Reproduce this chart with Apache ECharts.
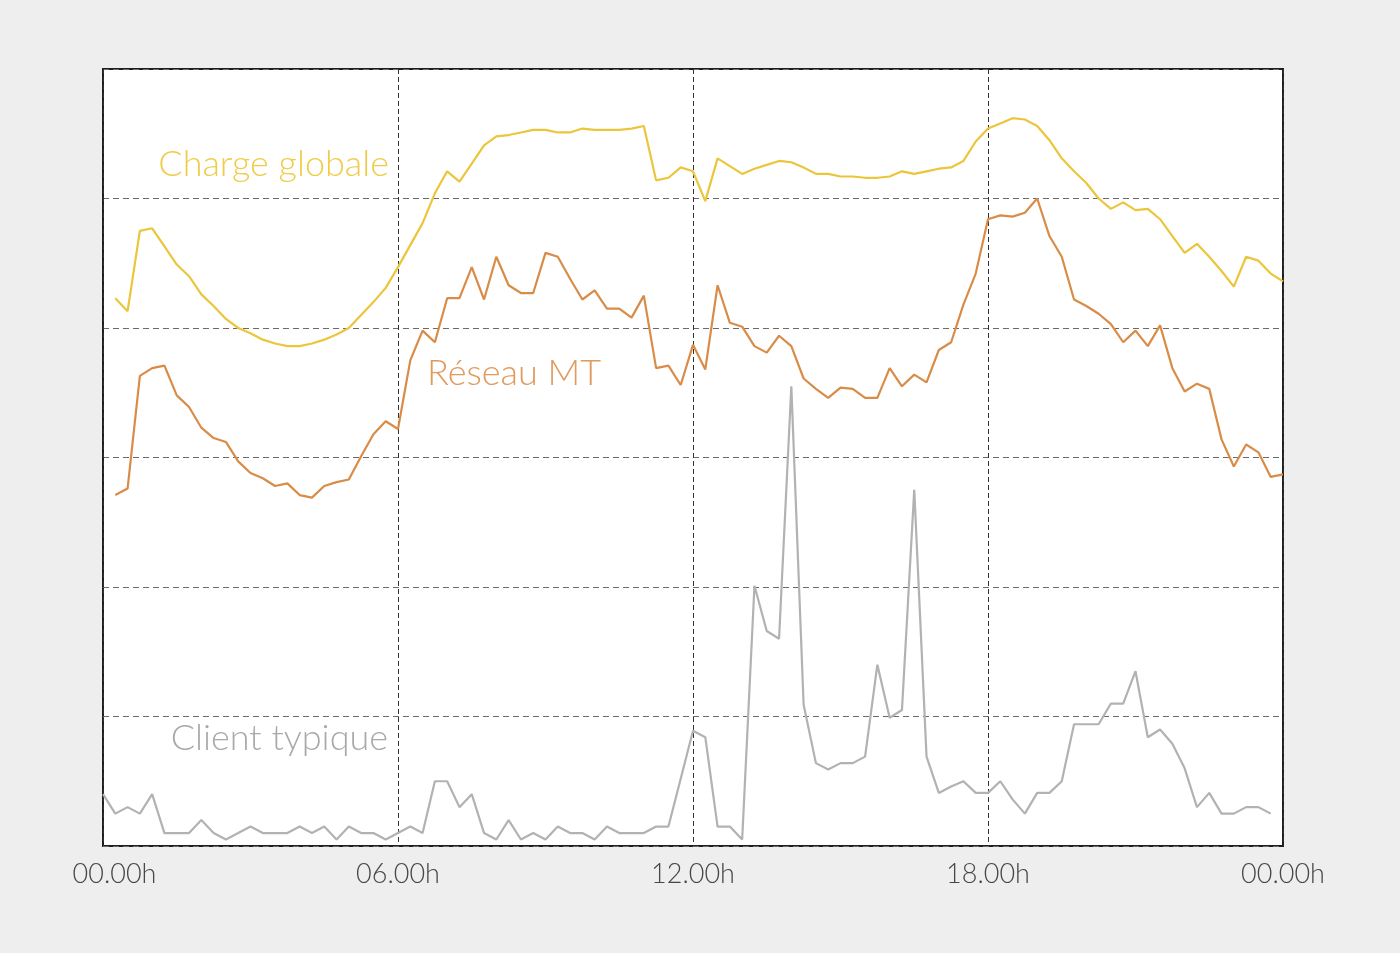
<!DOCTYPE html>
<html>
<head>
<meta charset="utf-8">
<title>Courbes de charge</title>
<script src="https://cdn.jsdelivr.net/npm/echarts@6/dist/echarts.min.js"></script>
<style>
  html, body { margin: 0; padding: 0; background: #eeeeee; }
  #chart { width: 1400px; height: 953px; }
</style>
</head>
<body>
<div id="chart"></div>
<script>
// quarter-hour samples, values in grid units (one dashed line = 1)
const hourTicks = [0, 6, 12, 18, 24]
const tickLabels = ['00.00h', '06.00h', '12.00h', '18.00h', '00.00h']

// Charge globale, from 00.15h to 24.00h
const chargeGlobale = [
  4.23, 4.13, 4.75, 4.77, 4.63, 4.49, 4.40, 4.26,
  4.17, 4.07, 4.00, 3.96, 3.91, 3.88, 3.86, 3.86,
  3.88, 3.91, 3.95, 4.00, 4.10, 4.20, 4.31, 4.47,
  4.64, 4.81, 5.04, 5.21, 5.13, 5.27, 5.41, 5.48,
  5.49, 5.51, 5.53, 5.53, 5.51, 5.51, 5.54, 5.53,
  5.53, 5.53, 5.54, 5.56, 5.14, 5.16, 5.24, 5.21,
  4.98, 5.31, 5.25, 5.19, 5.23, 5.26, 5.29, 5.28,
  5.24, 5.19, 5.19, 5.17, 5.17, 5.16, 5.16, 5.17,
  5.21, 5.19, 5.21, 5.23, 5.24, 5.29, 5.44, 5.54,
  5.58, 5.62, 5.61, 5.56, 5.45, 5.31, 5.21, 5.12,
  5.00, 4.92, 4.97, 4.91, 4.92, 4.84, 4.71, 4.58,
  4.65, 4.55, 4.44, 4.32, 4.55, 4.52, 4.42, 4.36
]

// Réseau MT, from 00.15h to 24.00h
const reseauMT = [
  2.71, 2.76, 3.63, 3.69, 3.71, 3.48, 3.39, 3.23,
  3.15, 3.12, 2.97, 2.88, 2.84, 2.78, 2.80, 2.71,
  2.69, 2.78, 2.81, 2.83, 3.01, 3.18, 3.28, 3.22,
  3.75, 3.98, 3.89, 4.23, 4.23, 4.47, 4.22, 4.55,
  4.33, 4.27, 4.27, 4.58, 4.55, 4.38, 4.22, 4.29,
  4.15, 4.15, 4.08, 4.25, 3.69, 3.71, 3.56, 3.87,
  3.68, 4.33, 4.04, 4.01, 3.86, 3.81, 3.94, 3.86,
  3.61, 3.53, 3.46, 3.54, 3.53, 3.46, 3.46, 3.69,
  3.55, 3.64, 3.58, 3.83, 3.89, 4.18, 4.42, 4.84,
  4.87, 4.86, 4.89, 5.00, 4.71, 4.55, 4.22, 4.17,
  4.11, 4.03, 3.89, 3.98, 3.86, 4.02, 3.69, 3.51,
  3.57, 3.53, 3.14, 2.93, 3.10, 3.04, 2.85, 2.87
]

// Client typique, from 00.00h to 23.45h
const clientTypique = [
  0.40, 0.25, 0.30, 0.25, 0.40, 0.10, 0.10, 0.10,
  0.20, 0.10, 0.05, 0.10, 0.15, 0.10, 0.10, 0.10,
  0.15, 0.10, 0.15, 0.05, 0.15, 0.10, 0.10, 0.05,
  0.10, 0.15, 0.10, 0.50, 0.50, 0.30, 0.40, 0.10,
  0.05, 0.20, 0.05, 0.10, 0.05, 0.15, 0.10, 0.10,
  0.05, 0.15, 0.10, 0.10, 0.10, 0.15, 0.15, 0.52,
  0.89, 0.84, 0.15, 0.15, 0.05, 2.01, 1.66, 1.60,
  3.55, 1.09, 0.64, 0.59, 0.64, 0.64, 0.69, 1.40,
  0.99, 1.05, 2.75, 0.69, 0.41, 0.46, 0.50, 0.41,
  0.41, 0.50, 0.36, 0.25, 0.41, 0.41, 0.50, 0.94,
  0.94, 0.94, 1.10, 1.10, 1.35, 0.84, 0.90, 0.79,
  0.60, 0.30, 0.41, 0.25, 0.25, 0.30, 0.30, 0.25
]

const YELLOW = '#ebc63a'
const ORANGE = '#d98c48'
const GREY = '#b2b2b2'
const FONT = 'Lato, "Open Sans", sans-serif'

// pair each value with its hour, first sample at startHour
function toPoints(values, startHour) {
  return values.map((v, i) => [startHour + i * 0.25, v])
}

function makeChart() {
  var div = document.getElementById('chart')
  var myChart = echarts.init(div)
  var option = {
    backgroundColor: '#eeeeee',
    animation: false,
    grid: {
      left: 103,
      right: 117,
      top: 69,
      bottom: 107,
      show: true,
      backgroundColor: '#ffffff',
      borderColor: '#1e1e1e',
      borderWidth: 2
    },
    xAxis: {
      type: 'value',
      min: hourTicks[0],
      max: hourTicks[hourTicks.length - 1],
      interval: 6,
      axisLine: { show: false },
      axisTick: { show: false },
      axisLabel: {
        margin: 15,
        fontFamily: FONT,
        fontWeight: 300,
        fontSize: 27,
        color: '#474747',
        formatter: function (val) {
          var i = hourTicks.indexOf(val)
          var txt = i >= 0 ? tickLabels[i] : ''
          return i === 0 ? '{first|' + txt + '}' : txt
        },
        rich: {
          first: {
            fontFamily: FONT,
            fontWeight: 300,
            fontSize: 27,
            color: '#474747',
            padding: [0, 0, 0, 23]
          }
        }
      },
      splitLine: {
        show: true,
        lineStyle: { color: '#333', width: 1, type: [5, 3] }
      }
    },
    yAxis: {
      type: 'value',
      min: 0,
      max: 6,
      interval: 1,
      axisLine: { show: false },
      axisTick: { show: false },
      axisLabel: { show: false },
      splitLine: {
        show: true,
        lineStyle: { color: '#6a6a6a', width: 1, type: [6, 4] }
      }
    },
    series: [
      {
        name: 'Client typique',
        type: 'line',
        data: toPoints(clientTypique, 0),
        showSymbol: false,
        lineStyle: { color: GREY, width: 2.2 },
        z: 3
      },
      {
        name: 'Réseau MT',
        type: 'line',
        data: toPoints(reseauMT, 0.25),
        showSymbol: false,
        lineStyle: { color: ORANGE, width: 2.2 },
        z: 4
      },
      {
        name: 'Charge globale',
        type: 'line',
        data: toPoints(chargeGlobale, 0.25),
        showSymbol: false,
        lineStyle: { color: YELLOW, width: 2.2 },
        z: 5
      }
    ],
    graphic: [
      {
        type: 'text', right: 1400 - 389, top: 146,
        style: { text: 'Charge globale', fill: '#efcc4a', font: '300 36px ' + FONT }
      },
      {
        type: 'text', left: 427, top: 355,
        style: { text: 'Réseau MT', fill: '#e09a5c', font: '300 36px ' + FONT }
      },
      {
        type: 'text', right: 1400 - 388, top: 720,
        style: { text: 'Client typique', fill: '#a9a9a9', font: '300 36px ' + FONT }
      }
    ]
  }
  myChart.setOption(option)
}

makeChart()
</script>
</body>
</html>
